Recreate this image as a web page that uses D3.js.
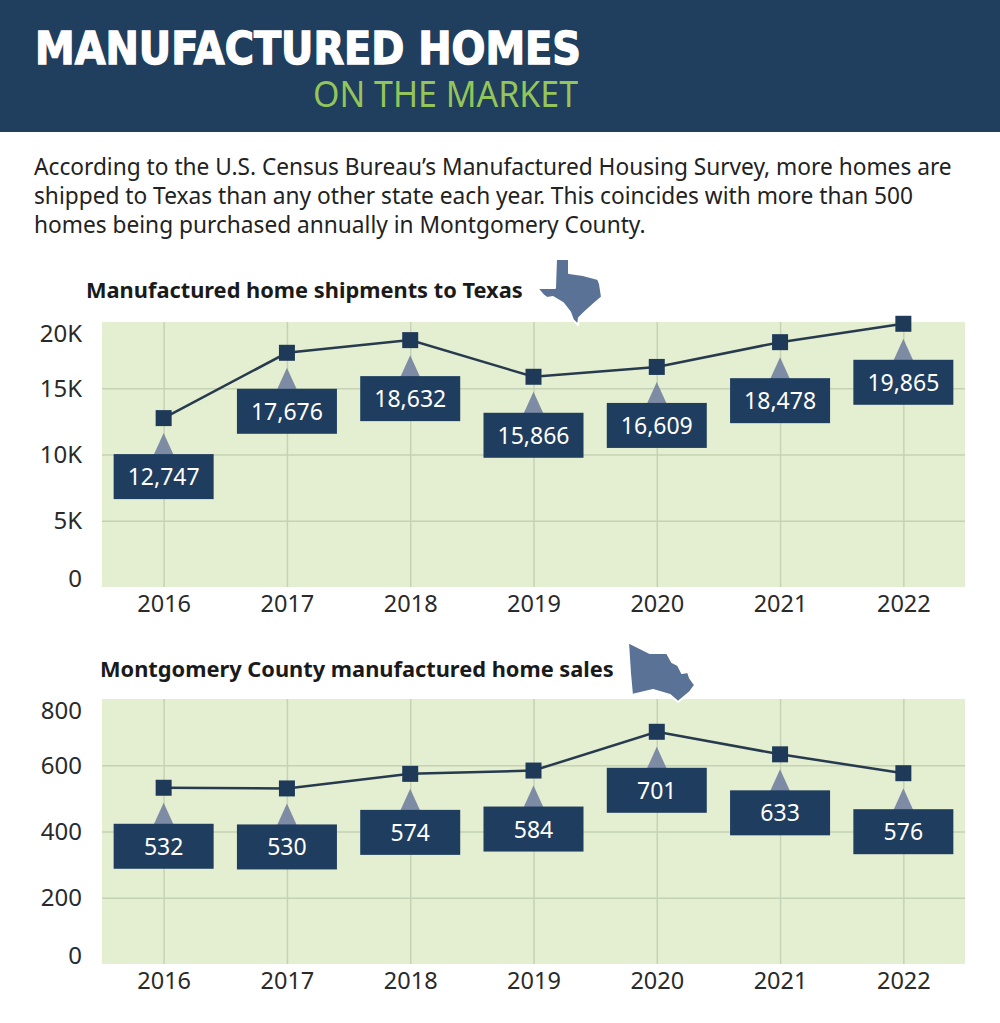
<!DOCTYPE html>
<html>
<head>
<meta charset="utf-8">
<script src="https://cdn.jsdelivr.net/npm/d3@7"></script>
<style>
  body { margin: 0; background: #fff; }
  svg { display: block; font-family: "Noto Sans", sans-serif; }
</style>
</head>
<body>
<script>
// Chart data
var years = ["2016", "2017", "2018", "2019", "2020", "2021", "2022"];
var texasShipments = [12747, 17676, 18632, 15866, 16609, 18478, 19865];
var countySales = [532, 530, 574, 584, 701, 633, 576];

// Tick values and tick labels for each chart
var texasTicks = [0, 5000, 10000, 15000, 20000];
var texasTickLabels = ["0", "5K", "10K", "15K", "20K"];
var countyTicks = [0, 200, 400, 600, 800];
var countyTickLabels = ["0", "200", "400", "600", "800"];

// Define SVG area dimensions
var svgWidth = 1000;
var svgHeight = 1023;

var svg = d3.select("body")
  .append("svg")
  .attr("width", svgWidth)
  .attr("height", svgHeight);

// Header band
svg.append("rect")
  .attr("x", 0)
  .attr("y", 0)
  .attr("width", svgWidth)
  .attr("height", 132)
  .attr("fill", "#203e5d");

// Heavy title, thickened a little with a stroke
svg.append("text")
  .attr("x", 35)
  .attr("y", 64)
  .attr("textLength", 546)
  .attr("lengthAdjust", "spacingAndGlyphs")
  .attr("font-family", "DejaVu Sans")
  .attr("font-weight", "bold")
  .attr("font-size", 45)
  .attr("fill", "#fff")
  .attr("stroke", "#fff")
  .attr("stroke-width", 1.4)
  .text("MANUFACTURED HOMES");

svg.append("text")
  .attr("x", 578)
  .attr("y", 107)
  .attr("text-anchor", "end")
  .attr("textLength", 265)
  .attr("lengthAdjust", "spacingAndGlyphs")
  .attr("font-size", 37)
  .attr("fill", "#93c55a")
  .text("ON THE MARKET");

// Intro paragraph
var introLines = [
  "According to the U.S. Census Bureau\u2019s Manufactured Housing Survey, more homes are",
  "shipped to Texas than any other state each year. This coincides with more than 500",
  "homes being purchased annually in Montgomery County."
];

svg.append("g")
  .selectAll("text")
  .data(introLines)
  .enter()
  .append("text")
  .attr("x", 34)
  .attr("y", (d, i) => 175 + i * 29)
  .attr("font-size", 22.7)
  .attr("fill", "#222")
  .text(d => d);

// Shared horizontal layout of both charts
var plotLeft = 102;
var plotRight = 965;

var xScale = d3.scalePoint()
  .domain(years)
  .range([plotLeft, plotRight])
  .padding(0.5);

var formatValue = d3.format(",");

// Draws one line chart with boxed value labels
function drawChart(opts) {
  var yScale = d3.scaleLinear()
    .domain([0, opts.ticks[opts.ticks.length - 1]])
    .range([opts.bottom, opts.top]);

  var chartGroup = svg.append("g");

  // Title
  chartGroup.append("text")
    .attr("x", opts.titleX)
    .attr("y", opts.titleY)
    .attr("font-size", 21.8)
    .attr("font-weight", "bold")
    .attr("fill", "#1a1a1a")
    .text(opts.title);

  // Plot background
  chartGroup.append("rect")
    .attr("x", plotLeft)
    .attr("y", opts.top)
    .attr("width", plotRight - plotLeft)
    .attr("height", opts.bottom - opts.top)
    .attr("fill", "#e4efd1");

  // Gridlines
  var hGrid = chartGroup.append("g")
    .attr("transform", `translate(${plotLeft}, 0)`)
    .call(d3.axisLeft(yScale)
      .tickValues(opts.ticks.slice(1, -1))
      .tickSize(-(plotRight - plotLeft))
      .tickFormat(""));
  hGrid.select(".domain").remove();

  var vGrid = chartGroup.append("g")
    .attr("transform", `translate(0, ${opts.bottom})`)
    .call(d3.axisBottom(xScale)
      .tickSize(-(opts.bottom - opts.top))
      .tickFormat(""));
  vGrid.select(".domain").remove();

  chartGroup.selectAll(".tick line")
    .attr("stroke", "#c6d2b5")
    .attr("stroke-width", 1.5);

  // Y axis labels, with end labels kept inside the plot
  var leftAxis = chartGroup.append("g")
    .attr("transform", `translate(${plotLeft}, 0)`)
    .call(d3.axisLeft(yScale)
      .tickValues(opts.ticks)
      .tickSize(0)
      .tickPadding(20)
      .tickFormat((d, i) => opts.tickLabels[i]));
  leftAxis.select(".domain").remove();
  leftAxis.selectAll("text")
    .attr("font-size", 24)
    .attr("font-family", "Noto Sans")
    .attr("fill", "#2a2a2a")
    .attr("dy", function(d, i) {
      if (i === 0) return "-0.02em";
      if (i === opts.ticks.length - 1) return "0.8em";
      return "0.34em";
    });

  // X axis labels
  var bottomAxis = chartGroup.append("g")
    .attr("transform", `translate(0, ${opts.bottom})`)
    .call(d3.axisBottom(xScale).tickSize(0).tickPadding(8));
  bottomAxis.select(".domain").remove();
  bottomAxis.selectAll("text")
    .attr("font-size", 23.5)
    .attr("font-family", "Noto Sans")
    .attr("fill", "#2a2a2a");

  // Line connecting the points
  var drawLine = d3.line()
    .x((d, i) => xScale(years[i]))
    .y(d => yScale(d));

  chartGroup.append("path")
    .attr("d", drawLine(opts.values))
    .attr("fill", "none")
    .attr("stroke", "#273a4e")
    .attr("stroke-width", 2.5);

  // Pointer triangles under each point
  chartGroup.selectAll(".pointer")
    .data(opts.values)
    .enter()
    .append("path")
    .attr("class", "pointer")
    .attr("d", (d, i) => {
      var cx = xScale(years[i]);
      var cy = yScale(d);
      return `M${cx},${cy + 15} L${cx + 10},${cy + 37} L${cx - 10},${cy + 37} Z`;
    })
    .attr("fill", "#7d8ba4");

  // Square markers
  chartGroup.selectAll(".marker")
    .data(opts.values)
    .enter()
    .append("rect")
    .attr("class", "marker")
    .attr("x", (d, i) => xScale(years[i]) - 8)
    .attr("y", d => yScale(d) - 8)
    .attr("width", 16)
    .attr("height", 16)
    .attr("fill", "#1f3a59");

  // Value label boxes
  var labels = chartGroup.selectAll(".value-label")
    .data(opts.values)
    .enter()
    .append("g")
    .attr("class", "value-label")
    .attr("transform", (d, i) => `translate(${xScale(years[i])}, ${yScale(d) + 36})`);

  labels.append("rect")
    .attr("x", -50)
    .attr("y", 0)
    .attr("width", 100)
    .attr("height", 45)
    .attr("fill", "#1f3d5e");

  labels.append("text")
    .attr("x", 0)
    .attr("y", 31)
    .attr("text-anchor", "middle")
    .attr("font-size", 23)
    .attr("fill", "#fff")
    .text(d => formatValue(d));

  // Map icon beside the title
  chartGroup.append("path")
    .attr("d", opts.icon)
    .attr("fill", "#5a7295")
    .attr("stroke", "#fff")
    .attr("stroke-width", 2)
    .attr("stroke-linejoin", "round");
}

// Outline of Texas (decorative icon)
var texasIcon = "M556,259 L569,259 L569,273 L583,275 L598,279 L600,284 L602,297 " +
  "L595,303 L585,312 L579,318 L578,325 L573,320 L570,312 L563,303 L553,297 " +
  "L547,298 L543,295 L537,288 L555,288 Z";

// Outline of Montgomery County (decorative icon)
var countyIcon = "M628,642 L650,653 L667,653 L672,662 L678,665 L682,673 L688,672 " +
  "L690,678 L695,685 L690,692 L678,702 L670,695 L653,690 L632,695 L630,673 Z";

drawChart({
  title: "Manufactured home shipments to Texas",
  titleX: 86,
  titleY: 298,
  top: 322,
  bottom: 587,
  values: texasShipments,
  ticks: texasTicks,
  tickLabels: texasTickLabels,
  icon: texasIcon
});

drawChart({
  title: "Montgomery County manufactured home sales",
  titleX: 100,
  titleY: 677,
  top: 699,
  bottom: 964,
  values: countySales,
  ticks: countyTicks,
  tickLabels: countyTickLabels,
  icon: countyIcon
});
</script>
</body>
</html>
